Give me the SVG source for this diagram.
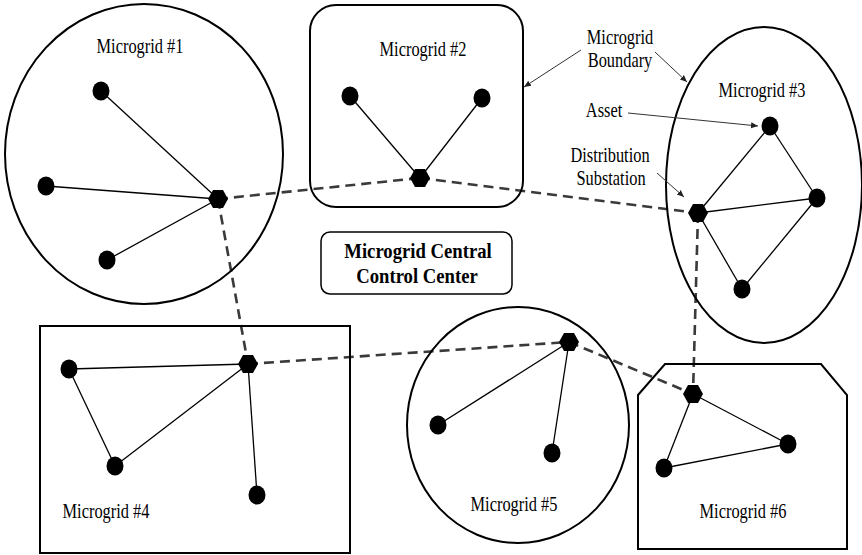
<svg xmlns="http://www.w3.org/2000/svg" width="862" height="555" viewBox="0 0 862 555">
<style>
.bd{fill:none;stroke:#000;stroke-width:2}
.ln{stroke:#000;stroke-width:1.3;fill:none}
.dl{stroke:#3a3a3a;stroke-width:2.6;stroke-dasharray:10 6;fill:none}
.as{fill:#000}
.t{font-family:"Liberation Serif","Times New Roman",serif;font-size:20px;fill:#000;text-anchor:middle}
.tb{font-family:"Liberation Serif","Times New Roman",serif;font-size:21px;font-weight:bold;fill:#000;text-anchor:middle}
.ar{stroke:#333;stroke-width:1;fill:none}
</style>
<defs>
<polygon id="hex" points="-10,0 -5,-9 5,-9 10,0 5,9 -5,9"/>
<marker id="ah" markerWidth="8" markerHeight="8" refX="7" refY="4" orient="auto" markerUnits="userSpaceOnUse">
<path d="M0,1 L7,4 L0,7 Z" fill="#222"/>
</marker>
</defs>
<rect width="862" height="555" fill="#fff"/>

<g id="connectors">
<line class="dl" x1="218" y1="199" x2="420" y2="178"/>
<line class="dl" x1="420" y1="178" x2="698" y2="213"/>
<line class="dl" x1="218" y1="199" x2="248" y2="364"/>
<line class="dl" x1="248" y1="364" x2="569" y2="342"/>
<line class="dl" x1="569" y1="342" x2="693" y2="394"/>
<line class="dl" x1="698" y1="213" x2="693" y2="394"/>
</g>

<g id="mg1">
<ellipse class="bd" cx="144" cy="154" rx="139" ry="150"/>
<text class="t" transform="translate(140 53) scale(0.82 1)">Microgrid #1</text>
<line class="ln" x1="218" y1="199" x2="101" y2="91"/>
<line class="ln" x1="218" y1="199" x2="46" y2="186"/>
<line class="ln" x1="218" y1="199" x2="107" y2="260"/>
<ellipse class="as" cx="101" cy="91" rx="8.5" ry="9.5"/>
<ellipse class="as" cx="46" cy="186" rx="8.5" ry="9.5"/>
<ellipse class="as" cx="107" cy="260" rx="8.5" ry="9.5"/>
<use href="#hex" x="218" y="199"/>
</g>

<g id="mg2">
<rect class="bd" x="310" y="5" width="213" height="202" rx="26"/>
<text class="t" transform="translate(423 56) scale(0.82 1)">Microgrid #2</text>
<line class="ln" x1="420" y1="178" x2="350" y2="96"/>
<line class="ln" x1="420" y1="178" x2="482" y2="98"/>
<ellipse class="as" cx="350" cy="96" rx="8.5" ry="9.5"/>
<ellipse class="as" cx="482" cy="98" rx="8.5" ry="9.5"/>
<use href="#hex" x="420" y="178"/>
</g>

<g id="control-center">
<rect x="321" y="232" width="191" height="62" rx="9" fill="#fff" stroke="#000" stroke-width="1.5"/>
<text class="tb" transform="translate(418 258) scale(0.89 1)">Microgrid Central</text>
<text class="tb" transform="translate(417 283) scale(0.89 1)">Control Center</text>
</g>

<g id="mg3">
<ellipse class="bd" cx="764" cy="185" rx="98" ry="158"/>
<text class="t" transform="translate(762 97) scale(0.82 1)">Microgrid #3</text>
<line class="ln" x1="698" y1="213" x2="770" y2="126"/>
<line class="ln" x1="698" y1="213" x2="817" y2="198"/>
<line class="ln" x1="698" y1="213" x2="742" y2="289"/>
<line class="ln" x1="770" y1="126" x2="817" y2="198"/>
<line class="ln" x1="817" y1="198" x2="742" y2="289"/>
<ellipse class="as" cx="770" cy="126" rx="8.5" ry="9.5"/>
<ellipse class="as" cx="817" cy="198" rx="8.5" ry="9.5"/>
<ellipse class="as" cx="742" cy="289" rx="8.5" ry="9.5"/>
<use href="#hex" x="698" y="213"/>
</g>

<g id="mg4">
<rect class="bd" x="40" y="326" width="310" height="227"/>
<text class="t" transform="translate(106 518) scale(0.82 1)">Microgrid #4</text>
<line class="ln" x1="248" y1="364" x2="69" y2="369"/>
<line class="ln" x1="248" y1="364" x2="115" y2="466"/>
<line class="ln" x1="248" y1="364" x2="257" y2="495"/>
<line class="ln" x1="69" y1="369" x2="115" y2="466"/>
<ellipse class="as" cx="69" cy="369" rx="8.5" ry="9.5"/>
<ellipse class="as" cx="115" cy="466" rx="8.5" ry="9.5"/>
<ellipse class="as" cx="257" cy="495" rx="8.5" ry="9.5"/>
<use href="#hex" x="248" y="364"/>
</g>

<g id="mg5">
<ellipse class="bd" cx="518" cy="425" rx="111" ry="118"/>
<text class="t" transform="translate(514 511) scale(0.82 1)">Microgrid #5</text>
<line class="ln" x1="569" y1="342" x2="438" y2="425"/>
<line class="ln" x1="569" y1="342" x2="552" y2="453"/>
<ellipse class="as" cx="438" cy="425" rx="8.5" ry="9.5"/>
<ellipse class="as" cx="552" cy="453" rx="8.5" ry="9.5"/>
<use href="#hex" x="569" y="342"/>
</g>

<g id="mg6">
<polygon class="bd" points="638,395 665,364 821,364 847,395 847,549 638,549"/>
<text class="t" transform="translate(743 518) scale(0.82 1)">Microgrid #6</text>
<line class="ln" x1="693" y1="394" x2="788" y2="444"/>
<line class="ln" x1="693" y1="394" x2="664" y2="468"/>
<line class="ln" x1="664" y1="468" x2="788" y2="444"/>
<ellipse class="as" cx="788" cy="444" rx="8.5" ry="9.5"/>
<ellipse class="as" cx="664" cy="468" rx="8.5" ry="9.5"/>
<use href="#hex" x="693" y="394"/>
</g>

<g id="legend">
<text class="t" transform="translate(620 44) scale(0.82 1)">Microgrid</text>
<text class="t" transform="translate(620 67) scale(0.82 1)">Boundary</text>
<text class="t" transform="translate(604 117) scale(0.82 1)">Asset</text>
<text class="t" transform="translate(610 162) scale(0.82 1)">Distribution</text>
<text class="t" transform="translate(611 185) scale(0.82 1)">Substation</text>
<line class="ar" x1="581" y1="50" x2="524" y2="87" marker-end="url(#ah)"/>
<line class="ar" x1="655" y1="52" x2="687" y2="82" marker-end="url(#ah)"/>
<line class="ar" x1="628" y1="113" x2="758" y2="126" marker-end="url(#ah)"/>
<line class="ar" x1="657" y1="173" x2="684" y2="197" marker-end="url(#ah)"/>
</g>
</svg>
